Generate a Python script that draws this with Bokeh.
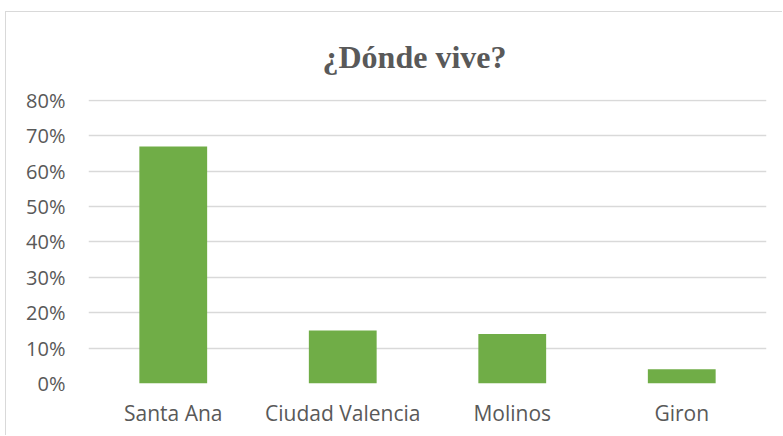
from bokeh.plotting import figure
from bokeh.models import FactorRange, Range1d, NumeralTickFormatter, FixedTicker, Title, ColumnDataSource
from bokeh.embed import file_html
from bokeh.resources import INLINE

categories = ["Santa Ana", "Ciudad Valencia", "Molinos", "Giron"]
values = [0.67, 0.15, 0.14, 0.04]
y_ticks = [0.0, 0.1, 0.2, 0.3, 0.4, 0.5, 0.6, 0.7, 0.8]
title_text = "¿Dónde vive?"

GRAY = "#595959"
GRID = "#d9d9d9"
GREEN = "#70AD47"

src = ColumnDataSource(dict(cat=categories, val=values))

p = figure(x_range=FactorRange(*categories, range_padding=0), y_range=Range1d(0, 0.8028),
           width=777, height=424, output_backend="svg", toolbar_location=None,
           min_border_left=82, min_border_right=17, min_border_top=87, min_border_bottom=53)

p.vbar(x="cat", top="val", width=0.4, source=src, color=GREEN, line_color=None)

p.outline_line_color = None
p.background_fill_color = "white"
p.border_fill_color = "white"
p.styles = {"border-left": "1px solid #d9d9d9", "border-top": "1px solid #d9d9d9",
            "margin-left": "5px", "margin-top": "11px"}

p.xgrid.grid_line_color = None
p.ygrid.grid_line_color = GRID
p.ygrid.grid_line_width = 1.5

p.yaxis.ticker = FixedTicker(ticks=y_ticks)
p.yaxis.formatter = NumeralTickFormatter(format="0%")
for ax in (p.xaxis[0], p.yaxis[0]):
    ax.axis_line_color = None
    ax.major_tick_line_color = None
    ax.minor_tick_line_color = None
    ax.major_tick_out = 0
    ax.major_tick_in = 0
    ax.major_label_text_color = GRAY
    ax.major_label_text_font = "Open Sans"
    ax.major_label_text_font_size = "20px"
p.xaxis.major_label_text_font_size = "21px"
p.yaxis.major_label_standoff = 23
p.xaxis.major_label_standoff = 15

t = Title(text=title_text, align="left", vertical_align="top", text_font="Liberation Serif",
          text_font_style="bold", text_font_size="32px", text_color=GRAY, offset=234, standoff=46)
p.add_layout(t, "above")

open("out.html", "w").write(file_html(p, INLINE))
